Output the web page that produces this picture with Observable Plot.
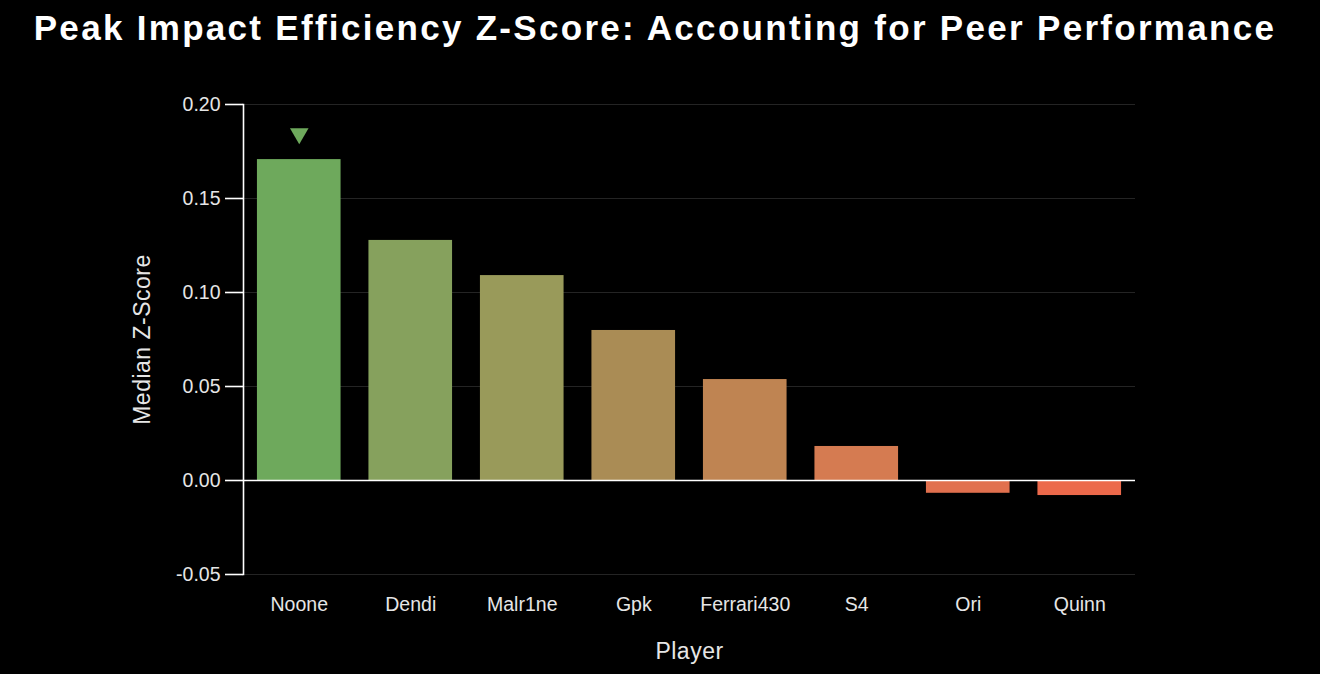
<!DOCTYPE html>
<html>
<head>
<meta charset="utf-8">
<script src="https://cdn.jsdelivr.net/npm/d3@7"></script>
<script src="https://cdn.jsdelivr.net/npm/@observablehq/plot@0.6"></script>
<style>
  html, body { margin: 0; padding: 0; background: #000; }
  #title { height: 58px; text-align: center; color: #fff; padding-right: 10px;
    font: bold 35px "Liberation Sans", Arial, sans-serif; line-height: 56px; letter-spacing: 2.3px; }
  #chart svg { display: block; }
</style>
</head>
<body>
<div id="title">Peak Impact Efficiency Z-Score: Accounting for Peer Performance</div>
<div id="chart"></div>
<script>
const players = ["Noone", "Dendi", "Malr1ne", "Gpk", "Ferrari430", "S4", "Ori", "Quinn"];
const medianZ = [0.1707, 0.1277, 0.109, 0.0798, 0.0537, 0.0181, -0.0068, -0.008];
const yTicks = [-0.05, 0, 0.05, 0.10, 0.15, 0.20];
const palette = ["#6ea95c", "#86a15d", "#999a5a", "#aa8c55", "#bf8452", "#d57b51", "#e1704e", "#ec694b"];

const data = players.map((p, i) => ({player: p, z: medianZ[i]}));
const best = data.reduce((a, b) => (b.z > a.z ? b : a));

const font = '"Liberation Sans", Arial, sans-serif';
const chart = Plot.plot({
  width: 1320,
  height: 616,
  marginTop: 46,
  marginBottom: 100,
  marginLeft: 243,
  marginRight: 185,
  style: {background: "#000", color: "#e6e6e6", fontFamily: font, fontSize: "19.5px"},
  x: {domain: players, paddingInner: 0.25, paddingOuter: 0.125, round: false, label: null},
  y: {domain: [-0.05, 0.20], label: null},
  color: {domain: players, range: palette},
  marks: [
    Plot.gridY(yTicks, {stroke: "#fff", strokeOpacity: 0.14, strokeWidth: 1}),
    Plot.barY(data, {x: "player", y: "z", fill: "player"}),
    Plot.ruleY([0], {stroke: "#fff", strokeWidth: 1.6}),
    Plot.dot([best], {x: "player", y: "z", dy: -26, symbol: "triangle", r: 6.9, rotate: 180, fill: palette[0], stroke: null}),
    Plot.axisY(yTicks, {tickFormat: d => d.toFixed(2), tickSize: 18, tickPadding: 5, stroke: "#fff", strokeWidth: 1.6, fill: "#e6e6e6",
      label: "Median Z-Score", labelAnchor: "center", labelOffset: 110, labelArrow: "none"}),
    Plot.frame({anchor: "left", stroke: "#fff", strokeWidth: 1.6}),
    Plot.axisX({tickSize: 0, tickPadding: 23, fill: "#e6e6e6",
      label: "Player", labelAnchor: "center", labelOffset: 84, labelArrow: "none"})
  ]
});
document.getElementById("chart").appendChild(chart);
chart.querySelectorAll("[aria-label='y-axis label'] text, [aria-label='x-axis label'] text").forEach(t => {
  t.setAttribute("font-size", "23");
  t.setAttribute("letter-spacing", "0.5");
  t.setAttribute("fill", "#e6e6e6");
});
</script>
</body>
</html>
